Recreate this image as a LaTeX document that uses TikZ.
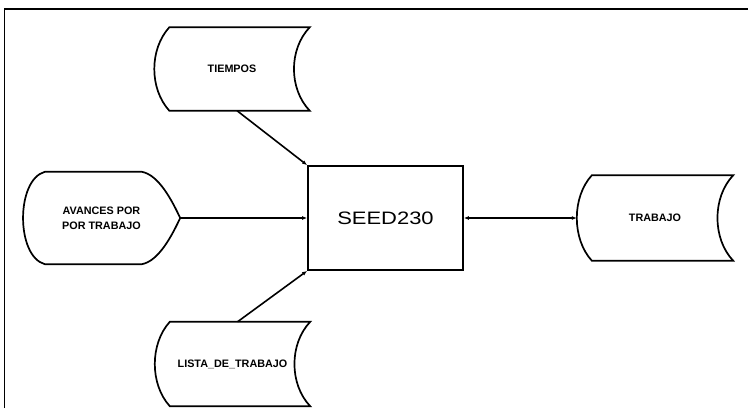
\documentclass[tikz,border=0pt]{standalone}
\usepackage{fontspec}
\setmainfont{Liberation Sans}
\usepackage{tikz}
\usetikzlibrary{arrows.meta,calc}

% outline of a stored-data symbol round a named node
\newcommand{\storeoutline}[1]{%
  \draw[outline] ($(#1.north west)+(15,0)$) -- (#1.north east)
    .. controls ($(#1.north east)+(-21,-22)$) and ($(#1.south east)+(-21,22)$) .. (#1.south east)
    -- ($(#1.south west)+(15,0)$)
    .. controls ($(#1.south west)+(-5,22)$) and ($(#1.north west)+(-5,-22)$) .. cycle;}

\begin{document}
\begin{tikzpicture}[
  x=1pt,y=1pt,
  >={Latex[length=5pt,width=4pt]},
  outline/.style={line width=1.7pt, line join=miter},
  lbl/.style={font=\fontsize{10.8}{15}\selectfont\bfseries, inner sep=0pt, align=center},
  store/.style={lbl, minimum width=155pt, minimum height=83pt},
  arrow/.style={->, line width=1.6pt},
  twoway/.style={<->, line width=1.6pt}
]
\useasboundingbox (0,0) rectangle (748,408);
% page frame (cut at right and bottom)
\draw[outline] (4.5,0) -- (4.5,399) -- (748,399);

% Central program.
\node[draw, outline, minimum width=155pt, minimum height=104pt, inner sep=0pt] (seed) at (385.5,190)
  {\scalebox{1.22}[1]{\fontsize{18}{20}\selectfont SEED230}};

% Files round it.
\node[store] (tiempos) at (232,339) {TIEMPOS};
\node[store, minimum height=84pt] (lista) at (232.5,44) {LISTA\_DE\_TRABAJO};
\node[store, minimum width=156pt, minimum height=85pt] (trabajo) at (655,190) {TRABAJO};
\storeoutline{tiempos}
\storeoutline{lista}
\storeoutline{trabajo}

% Manual input.
\node[lbl, minimum width=157pt, minimum height=92pt] (avances) at (101.5,190) {AVANCES POR\\POR TRABAJO};
\draw[outline] ($(avances.north west)+(22,0)$) -- ($(avances.north west)+(119,0)$)
  .. controls ($(avances.north west)+(136,-3)$) and ($(avances.east)+(-8,17)$) .. (avances.east)
  .. controls ($(avances.east)+(-8,-17)$) and ($(avances.south west)+(136,3)$) .. ($(avances.south west)+(119,0)$)
  -- ($(avances.south west)+(22,0)$)
  .. controls ($(avances.south west)+(-7,8)$) and ($(avances.north west)+(-7,-8)$) .. cycle;

% Data flow.
\draw[arrow] ($(tiempos.south)+(5,0)$) -- (seed.north west);
\draw[arrow] (avances.east) -- (seed.west);
\draw[arrow] ($(lista.north)+(5,0)$) -- (seed.south west);
\draw[twoway] (seed.east) -- (trabajo.west);
\end{tikzpicture}
\end{document}
